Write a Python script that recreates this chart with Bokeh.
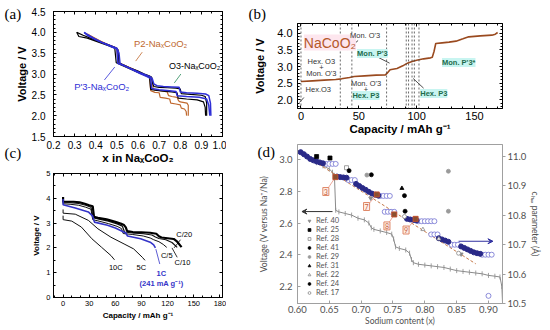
import math
from bokeh.plotting import figure
from bokeh.layouts import row, column
from bokeh.models import (Label, Span, Arrow, VeeHead, LinearAxis, Range1d, Legend, GridBox,
                          LegendItem, SingleIntervalTicker, NumeralTickFormatter)
from bokeh.core.properties import value
from bokeh.embed import file_html
from bokeh.resources import INLINE

SANS = "Liberation Sans"
SERIF = "Liberation Serif"
DSANS = "Lato"

# ---------------- (a) voltage vs x in NaxCoO2 ----------------
a_o3_chg_x = [0.925, 0.925, 0.918, 0.90, 0.85, 0.805, 0.80, 0.78, 0.74, 0.70, 0.675, 0.668, 0.665, 0.655, 0.63, 0.60, 0.56, 0.53, 0.51, 0.505, 0.495, 0.46, 0.42, 0.38, 0.34, 0.31]
a_o3_chg_v = [2.00, 2.30, 2.46, 2.49, 2.51, 2.53, 2.64, 2.66, 2.67, 2.68, 2.70, 2.80, 2.92, 2.95, 3.00, 3.07, 3.15, 3.22, 3.27, 3.58, 3.63, 3.70, 3.77, 3.85, 3.93, 4.00]
a_o3_dis_x = [0.31, 0.32, 0.36, 0.41, 0.46, 0.49, 0.497, 0.52, 0.56, 0.60, 0.64, 0.655, 0.66, 0.68, 0.72, 0.76, 0.785, 0.79, 0.83, 0.88, 0.91, 0.918, 0.92]
a_o3_dis_v = [4.00, 3.90, 3.86, 3.77, 3.68, 3.62, 3.27, 3.22, 3.13, 3.04, 2.96, 2.92, 2.63, 2.61, 2.59, 2.57, 2.55, 2.42, 2.40, 2.38, 2.33, 2.20, 2.00]

a_p2_chg_x = [0.838, 0.838, 0.832, 0.80, 0.792, 0.785, 0.76, 0.745, 0.738, 0.72, 0.69, 0.672, 0.668, 0.66, 0.63, 0.59, 0.55, 0.52, 0.51, 0.505, 0.49, 0.45, 0.41, 0.37, 0.36]
a_p2_chg_v = [2.00, 2.25, 2.30, 2.33, 2.36, 2.44, 2.46, 2.48, 2.57, 2.59, 2.61, 2.63, 2.82, 2.93, 2.99, 3.09, 3.18, 3.24, 3.27, 3.58, 3.64, 3.72, 3.82, 3.93, 3.96]
a_p2_dis_x = [0.36, 0.38, 0.42, 0.46, 0.49, 0.50, 0.505, 0.53, 0.57, 0.61, 0.645, 0.655, 0.66, 0.68, 0.70, 0.705, 0.73, 0.75, 0.755, 0.78, 0.80, 0.805, 0.82, 0.828, 0.83]
a_p2_dis_v = [3.96, 3.90, 3.79, 3.70, 3.64, 3.60, 3.26, 3.22, 3.12, 3.02, 2.94, 2.91, 2.60, 2.56, 2.55, 2.44, 2.42, 2.40, 2.30, 2.28, 2.26, 2.18, 2.16, 2.10, 2.00]

a_p3_chg_x = [0.945, 0.943, 0.935, 0.92, 0.88, 0.83, 0.80, 0.795, 0.76, 0.72, 0.69, 0.675, 0.668, 0.66, 0.64, 0.61, 0.57, 0.54, 0.515, 0.51, 0.50, 0.47, 0.43, 0.39, 0.36, 0.345]
a_p3_chg_v = [2.00, 2.30, 2.48, 2.52, 2.54, 2.55, 2.57, 2.68, 2.69, 2.70, 2.72, 2.76, 2.88, 2.93, 2.97, 3.03, 3.12, 3.19, 3.25, 3.50, 3.62, 3.68, 3.76, 3.86, 3.95, 4.00]
a_p3_dis_x = [0.345, 0.36, 0.40, 0.44, 0.48, 0.50, 0.505, 0.53, 0.57, 0.61, 0.645, 0.66, 0.665, 0.70, 0.75, 0.78, 0.785, 0.83, 0.89, 0.925, 0.935, 0.94]
a_p3_dis_v = [4.00, 3.93, 3.82, 3.73, 3.64, 3.60, 3.25, 3.21, 3.11, 3.01, 2.93, 2.89, 2.65, 2.62, 2.60, 2.58, 2.48, 2.46, 2.44, 2.40, 2.25, 2.00]

# ---------------- (b) NaCoO2 charge curve ----------------
b_cap = [0, 10, 20, 30, 35, 42, 46, 55, 65, 73, 74.5, 77, 83, 88, 92, 96, 100, 106, 112, 113.5, 115, 116.5, 122, 128, 134, 140, 145, 155, 165, 168, 170]
b_volt = [2.55, 2.57, 2.59, 2.61, 2.63, 2.67, 2.70, 2.72, 2.74, 2.75, 2.80, 2.90, 2.94, 3.02, 3.10, 3.15, 3.19, 3.23, 3.26, 3.28, 3.45, 3.69, 3.71, 3.73, 3.76, 3.83, 3.89, 3.92, 3.94, 3.97, 4.02]
b_phase_bounds = [0, 34, 44, 74, 91, 93, 96, 98, 102]

# ---------------- (c) rate capability ----------------
c_c20_cap = [0, 0, 5, 12, 19, 25, 30, 34, 35.5, 40, 50, 60, 66, 70, 72, 73.5, 80, 90, 100, 107, 110, 113, 120, 127, 131, 136]
c_c20_v = [4.05, 3.87, 3.86, 3.86, 3.84, 3.78, 3.72, 3.68, 3.25, 3.21, 3.15, 3.05, 2.98, 2.92, 2.83, 2.68, 2.64, 2.63, 2.61, 2.57, 2.47, 2.42, 2.39, 2.36, 2.25, 2.03]
c_c10_cap = [0, 0, 8, 18, 26, 32, 34.5, 40, 52, 62, 68, 70.5, 80, 92, 102, 106, 110, 118, 125, 131]
c_c10_v = [4.0, 3.83, 3.82, 3.79, 3.72, 3.64, 3.22, 3.17, 3.08, 2.97, 2.88, 2.64, 2.60, 2.57, 2.52, 2.44, 2.38, 2.33, 2.22, 2.02]
c_c5_cap = [0, 0, 8, 18, 26, 32, 34, 40, 52, 62, 67, 69, 80, 92, 100, 104, 110, 115, 119]
c_c5_v = [3.97, 3.78, 3.76, 3.72, 3.64, 3.56, 3.14, 3.09, 2.98, 2.87, 2.78, 2.58, 2.54, 2.48, 2.40, 2.33, 2.25, 2.14, 2.02]
c_1c_cap = [0, 0, 14, 29, 34, 36, 51, 60, 66, 72, 74, 89, 100, 104, 106]
c_1c_v = [3.97, 3.74, 3.61, 3.45, 3.28, 3.04, 2.91, 2.80, 2.70, 2.60, 2.48, 2.37, 2.23, 2.12, 2.00]
c_5c_cap = [0, 0, 14, 29, 40, 55, 70, 81, 91, 94]
c_5c_v = [3.55, 3.40, 3.36, 3.11, 2.77, 2.43, 2.16, 1.96, 1.62, 1.50]
c_10c_cap = [0, 0, 10, 21, 33, 44, 55, 59]
c_10c_v = [3.30, 3.14, 3.08, 2.84, 2.37, 2.03, 1.69, 1.52]

# ---------------- (d) voltage and c_hex vs sodium content ----------------
d_vx = [0.600, 0.610, 0.620, 0.630, 0.640, 0.650, 0.655, 0.658, 0.660, 0.665, 0.675, 0.685, 0.695, 0.705, 0.712, 0.716, 0.720, 0.730, 0.740, 0.748, 0.751, 0.754, 0.760, 0.770, 0.776, 0.779, 0.782, 0.790, 0.800, 0.810, 0.820, 0.830, 0.840, 0.850, 0.860, 0.870, 0.880, 0.890, 0.900, 0.910, 0.918, 0.921, 0.922]
d_vv = [3.06, 3.03, 3.00, 2.98, 2.96, 2.94, 2.92, 2.90, 2.68, 2.67, 2.66, 2.65, 2.63, 2.62, 2.60, 2.57, 2.56, 2.55, 2.54, 2.53, 2.50, 2.45, 2.44, 2.43, 2.41, 2.37, 2.35, 2.34, 2.335, 2.33, 2.325, 2.32, 2.31, 2.30, 2.295, 2.29, 2.285, 2.28, 2.27, 2.265, 2.26, 2.20, 2.10]

d_chex_x = [0.605, 0.610, 0.615, 0.620, 0.625, 0.630, 0.635, 0.640, 0.662, 0.667, 0.672, 0.677, 0.692, 0.697, 0.702, 0.707, 0.712, 0.717, 0.722, 0.727, 0.772, 0.777, 0.782, 0.787, 0.822, 0.827, 0.832, 0.837, 0.857, 0.862, 0.867, 0.872, 0.877, 0.882, 0.887]
d_chex_c = [11.015, 11.008, 11.000, 10.992, 10.987, 10.983, 10.980, 10.977, 10.932, 10.930, 10.929, 10.928, 10.907, 10.900, 10.893, 10.887, 10.880, 10.874, 10.870, 10.867, 10.788, 10.786, 10.784, 10.782, 10.722, 10.718, 10.714, 10.710, 10.694, 10.689, 10.684, 10.679, 10.674, 10.671, 10.669]
d_open_x = [0.645, 0.650, 0.655, 0.660, 0.680, 0.685, 0.690, 0.730, 0.735, 0.740, 0.745, 0.737, 0.742, 0.747, 0.752, 0.790, 0.795, 0.800, 0.805, 0.810, 0.815, 0.810, 0.815, 0.820, 0.842, 0.847, 0.852, 0.890, 0.895, 0.900, 0.905, 0.900]
d_open_c = [10.975, 10.975, 10.975, 10.975, 10.920, 10.920, 10.920, 10.866, 10.866, 10.866, 10.866, 10.812, 10.812, 10.812, 10.812, 10.780, 10.780, 10.780, 10.780, 10.780, 10.780, 10.735, 10.735, 10.735, 10.700, 10.700, 10.700, 10.666, 10.666, 10.666, 10.666, 10.526]
d_fit_x = [0.600, 0.880]
d_fit_c = [11.020, 10.635]
d_mark_x = [0.6595, 0.7245, 0.752, 0.7855]
d_mark_c = [10.930, 10.871, 10.803, 10.788]
d_box_x = [0.6445, 0.7085, 0.7405, 0.7705]
d_box_c = [10.881, 10.830, 10.764, 10.750]
d_box_text = ["3", "7", "8", "9"]

ref_names = ["Ref. 40", "Ref. 25", "Ref. 28", "Ref. 41", "Ref. 29", "Ref. 31", "Ref. 22", "Ref. 24", "Ref. 17"]
ref40_x = [0.715, 0.857]; ref40_c = [10.858, 10.668]
ref25_x = [0.630, 0.651]; ref25_c = [11.000, 10.995]
ref28_x = [0.677];        ref28_c = [10.962]
ref41_x = [0.681, 0.716]; ref41_c = [10.952, 10.938]
ref29_x = [0.709, 0.837, 0.837]; ref29_c = [10.937, 10.950, 10.814]
ref31_x = [0.764];        ref31_c = [10.892]
ref22_x = [0.797, 0.822]; ref22_c = [10.752, 10.720]
ref24_x = [0.768, 0.769]; ref24_c = [10.867, 10.814]
ref17_x = [0.768, 0.853]; ref17_c = [10.796, 10.671]

panel_letters = ["(a)", "(b)", "(c)", "(d)"]

W, H = 550, 330


def make_fig(w, h, xr, yr, bl, br, bt, bb, outline="black"):
    p = figure(width=w, height=h, x_range=Range1d(*xr), y_range=Range1d(*yr),
               output_backend="svg", toolbar_location=None,
               min_border_left=bl, min_border_right=br,
               min_border_top=bt, min_border_bottom=bb)
    p.xgrid.visible = False
    p.ygrid.visible = False
    p.outline_line_color = outline
    p.outline_line_width = 1
    return p


def style(ax, fs, lfs, font=SANS, tin=3, tout=0, color="black", lcolor="black",
          bold=True, ls=2, als=2):
    ax.major_tick_in = tin
    ax.major_tick_out = tout
    ax.minor_tick_in = 2 if tin else 0
    ax.minor_tick_out = 2 if tout else 0
    ax.major_tick_line_color = color
    ax.minor_tick_line_color = color
    ax.axis_line_color = color
    ax.major_label_text_font = font
    ax.major_label_text_font_size = f"{fs}px"
    ax.major_label_text_color = lcolor
    ax.axis_label_text_font = font
    ax.axis_label_text_font_size = f"{lfs}px"
    ax.axis_label_text_font_style = "bold" if bold else "normal"
    ax.axis_label_text_color = lcolor
    ax.major_label_standoff = ls
    ax.axis_label_standoff = als


def mirror(p, tx, ty):
    for loc, tk in (("above", tx), ("right", ty)):
        ax = LinearAxis(ticker=tk, major_label_text_font_size="0px", major_label_text_color=None,
                        major_tick_in=3, major_tick_out=0, minor_tick_in=2, minor_tick_out=0,
                        major_label_standoff=0, axis_line_color="black")
        p.add_layout(ax, loc)


def lab(p, x, y, text, size, color="black", font=SANS, fstyle="normal", align="center",
        baseline="middle", bg=None, yname="default"):
    l = Label(x=x, y=y, text=text, text_font=font, text_font_size=f"{size}px",
              text_color=color, text_font_style=fstyle, text_align=align,
              text_baseline=baseline, y_range_name=yname)
    if bg is not None:
        l.background_fill_color = bg
        l.background_fill_alpha = 1.0
    p.add_layout(l)


F1 = NumeralTickFormatter(format="0.0")

# ================= panel (a) =================
pa = make_fig(226, 166, (0.2, 1.0), (1.5, 4.5), 43, 4, 11, 29)
ta_x = SingleIntervalTicker(interval=0.1, num_minor_ticks=2)
ta_y = SingleIntervalTicker(interval=0.5, num_minor_ticks=5)
pa.xaxis.ticker = ta_x
pa.yaxis.ticker = ta_y
pa.xaxis.formatter = F1
pa.yaxis.formatter = F1
style(pa.xaxis[0], 10, 11.5, ls=4, als=0)
style(pa.yaxis[0], 10, 11, ls=8, als=1)
pa.xaxis.axis_label = "x in NaₓCoO₂"
pa.yaxis.axis_label = "Voltage / V"
mirror(pa, ta_x, ta_y)

BROWN_A = "#c0692f"
BLUE_A = "#2f2fd6"
pa.line(a_p2_chg_x, a_p2_chg_v, line_color=BROWN_A, line_width=1.2)
pa.line(a_p2_dis_x, a_p2_dis_v, line_color=BROWN_A, line_width=1.2)
pa.line(a_o3_chg_x, a_o3_chg_v, line_color="black", line_width=1.2)
pa.line(a_o3_dis_x, a_o3_dis_v, line_color="black", line_width=1.2)
pa.line(a_p3_chg_x, a_p3_chg_v, line_color=BLUE_A, line_width=1.5)
pa.line(a_p3_dis_x, a_p3_dis_v, line_color=BLUE_A, line_width=1.5)
pa.segment(x0=[0.62, 0.803, 0.441], y0=[3.524, 3.0, 2.857],
           x1=[0.589, 0.772, 0.49], y1=[3.31, 2.786, 3.167],
           line_color=[BROWN_A, "#2a8a5a", BLUE_A], line_width=0.8)
lab(pa, 0.707, 3.74, "P2-NaₓCoO₂", 9.5, BROWN_A)
lab(pa, 0.868, 3.19, "O3-NaₓCoO₂", 9, "black")
lab(pa, 0.428, 2.71, "P'3-NaₓCoO₂", 9.5, BLUE_A)

# ================= panel (b) =================
pb = make_fig(324, 140, (-3, 174.2), (1.74, 4.29), 42, 48, 23, 32)
tb_x = SingleIntervalTicker(interval=50, num_minor_ticks=5)
tb_y = SingleIntervalTicker(interval=0.5, num_minor_ticks=5)
pb.xaxis.ticker = tb_x
pb.yaxis.ticker = tb_y
pb.yaxis.formatter = F1
style(pb.xaxis[0], 11, 11.5, ls=3, als=0)
style(pb.yaxis[0], 11, 11, ls=5, als=8)
pb.xaxis.axis_label = "Capacity / mAh g⁻¹"
pb.yaxis.axis_label = "Voltage / V"
mirror(pb, tb_x, tb_y)
for c in b_phase_bounds:
    pb.add_layout(Span(location=c, dimension="height", line_color="#444",
                       line_dash="2 2", line_width=0.8))
pb.line(b_cap, b_volt, line_color="#9a4a1f", line_width=1.6)

GREEN = "#1d6b4b"
CYAN = "#c8f5f1"
GREY_T = "#333333"
lab(pb, 2.5, 3.72, "NaCoO₂", 14, "#b5582b", align="left", bg="#fde6ee")
lab(pb, 4.0, 2.31, "Hex.O3", 7.5, GREY_T, align="left")
lab(pb, 17.6, 3.14, "Hex. O3", 7.5, GREY_T)
lab(pb, 17.6, 2.98, "+", 7.5, GREY_T)
lab(pb, 17.6, 2.80, "Mon. O'3", 7.5, GREY_T)
lab(pb, 55.4, 3.93, "Mon. O'3", 7.5, GREY_T)
lab(pb, 56.2, 2.49, "Mon. O'3", 7.5, GREY_T)
lab(pb, 56.2, 2.31, "+", 7.5, GREY_T)
lab(pb, 56.2, 2.13, "Hex. P3", 7.5, GREEN, fstyle="bold", bg=CYAN)
lab(pb, 61.7, 3.39, "Mon. P'3", 7.5, GREEN, fstyle="bold", bg=CYAN)
lab(pb, 114.8, 2.19, "Hex. P3", 7.5, GREEN, fstyle="bold", bg=CYAN)
lab(pb, 136.4, 3.12, "Mon. P'3*", 7.5, GREEN, fstyle="bold", bg=CYAN)
pb.segment(x0=[-1.3, 40.3, 65.3, 97.0], y0=[1.92, 3.51, 3.30, 2.64],
           x1=[2.5, 49.4, 76.6, 106.0], y1=[2.07, 3.78, 3.10, 2.35],
           line_color="#222", line_width=0.8)

# ================= panel (c) =================
pc = make_fig(226, 164, (-11, 183), (0, 5), 53, 1, 7, 33)
tc_x = SingleIntervalTicker(interval=30, num_minor_ticks=3)
tc_y = SingleIntervalTicker(interval=1, num_minor_ticks=2)
pc.xaxis.ticker = tc_x
pc.yaxis.ticker = tc_y
style(pc.xaxis[0], 7.5, 8, ls=3, als=2)
style(pc.yaxis[0], 7.5, 8, ls=3, als=2)
pc.xaxis.axis_label = "Capacity / mAh g⁻¹"
pc.yaxis.axis_label = "Voltage / V"
mirror(pc, tc_x, tc_y)
BLUE_C = "#3434c8"
pc.line(c_10c_cap, c_10c_v, line_color="#111", line_width=1.0)
pc.line(c_5c_cap, c_5c_v, line_color="#111", line_width=1.0)
pc.line(c_c5_cap, c_c5_v, line_color="#111", line_width=1.0)
pc.line(c_c10_cap, c_c10_v, line_color="#111", line_width=1.2)
pc.line(c_c20_cap, c_c20_v, line_color="black", line_width=2.2)
pc.line(c_1c_cap, c_1c_v, line_color=BLUE_C, line_width=1.6)
pc.segment(x0=[134.8, 131.0], y0=[2.33, 1.62], x1=[127.4, 125.0], y1=[2.0, 2.0],
           line_color="black", line_width=0.8)
pc.segment(x0=[106.5], y0=[1.95], x1=[111.0], y1=[1.35], line_color=BLUE_C, line_width=0.8)
lab(pc, 139, 2.54, "C/20", 7.5)
lab(pc, 119, 1.69, "C/5", 7.5)
lab(pc, 137, 1.41, "C/10", 7.5)
lab(pc, 60.5, 1.2, "10C", 7.5)
lab(pc, 89.8, 1.2, "5C", 7.5)
lab(pc, 112.8, 0.96, "1C", 7.5, BLUE_C, fstyle="bold")
lab(pc, 113.0, 0.55, "(241 mA g⁻¹)", 7.5, BLUE_C, fstyle="bold")

# ================= panel (d) =================
pd = make_fig(324, 190, (0.6, 0.922), (2.093, 3.0945), 71, 38, 4, 27, outline="#a0a0a0")
pd.extra_y_ranges = {"c": Range1d(10.5, 11.041)}
pd.xaxis.ticker = SingleIntervalTicker(interval=0.05, num_minor_ticks=0)
pd.xaxis.formatter = NumeralTickFormatter(format="0.00")
pd.yaxis.ticker = SingleIntervalTicker(interval=0.2, num_minor_ticks=0)
pd.yaxis.formatter = F1
style(pd.xaxis[0], 9.5, 8.5, font=DSANS, color="#a0a0a0", lcolor="#505050", bold=False, ls=2, als=0)
style(pd.yaxis[0], 9.5, 8.5, font=DSANS, color="#a0a0a0", lcolor="#505050", bold=False, ls=5, als=7)
pd.xaxis.axis_label = "Sodium content (x)"
pd.yaxis.axis_label = "Voltage (V versus Na⁺/Na)"
rax = LinearAxis(y_range_name="c", ticker=SingleIntervalTicker(interval=0.1, num_minor_ticks=0),
                 formatter=NumeralTickFormatter(format="0.0"), axis_label="cₕₑₓ parameter (Å)")
style(rax, 9.5, 8.5, font=DSANS, tin=0, tout=3, color="#a0a0a0", lcolor="#505050", bold=False, ls=2, als=1)
pd.add_layout(rax, "right")

pd.line(d_vx, d_vv, line_color="#8a8a8a", line_width=1.0)
pd.scatter(d_vx, d_vv, marker="dash", angle=math.pi / 2, size=5, line_color="#8a8a8a", line_width=0.8)
pd.line(d_fit_x, d_fit_c, y_range_name="c", line_color="#c57a4a", line_dash="3 2", line_width=1.0)
pd.scatter(d_open_x, d_open_c, y_range_name="c", marker="circle", size=5,
           line_color="#7070d0", fill_color="white", line_width=0.8)
pd.scatter(d_chex_x, d_chex_c, y_range_name="c", marker="circle", size=5,
           line_color="#2a2a88", fill_color="#2a2a88")

ref_x = [ref40_x, ref25_x, ref28_x, ref41_x, ref29_x, ref31_x, ref22_x, ref24_x, ref17_x]
ref_c = [ref40_c, ref25_c, ref28_c, ref41_c, ref29_c, ref31_c, ref22_c, ref24_c, ref17_c]
ref_mk = ["inverted_triangle", "square", "square", "circle", "circle", "triangle", "triangle", "circle", "circle"]
ref_fill = ["#888888", "black", "white", "black", "#9a9a9a", "black", "white", "black", "white"]
ref_line = ["#888888", "black", "#888888", "black", "#9a9a9a", "black", "#888888", "black", "#888888"]
items = []
for name, xs, cs, mk, fc, lc in zip(ref_names, ref_x, ref_c, ref_mk, ref_fill, ref_line):
    r = pd.scatter(xs, cs, y_range_name="c", marker=mk, size=4, fill_color=fc, line_color=lc, line_width=0.8)
    items.append(LegendItem(label=name, renderers=[r]))
leg = Legend(items=items, location=(8, 6), spacing=0, padding=0, margin=0,
             label_height=7, glyph_height=7, glyph_width=8, label_standoff=3,
             label_text_font=DSANS, label_text_font_size="7.5px", label_text_color="#555555",
             border_line_color=None, background_fill_alpha=0)
pd.add_layout(leg)

pd.segment(x0=d_box_x, y0=d_box_c, x1=d_mark_x, y1=d_mark_c, y_range_name="c",
           line_color="#e89080", line_width=0.8)
pd.scatter(d_mark_x, d_mark_c, y_range_name="c", marker="square", size=5,
           fill_color="#8a5030", line_color="#c05030")
for bx, bc, bt in zip(d_box_x, d_box_c, d_box_text):
    l = Label(x=bx, y=bc, text=bt, y_range_name="c", text_font=DSANS, text_font_size="7px",
              text_color="#c86040", text_align="center", text_baseline="middle",
              background_fill_color="#fdeee6", border_line_color="#e08a6a", padding=1)
    pd.add_layout(l)

pd.add_layout(Arrow(end=VeeHead(size=5, line_color="#333", fill_color="#333"),
                    x_start=0.655, y_start=2.672, x_end=0.607, y_end=2.672,
                    line_color="#333", line_width=1))
pd.add_layout(Arrow(end=VeeHead(size=5, line_color="#3030a0", fill_color="#3030a0"),
                    x_start=0.853, y_start=2.485, x_end=0.907, y_end=2.485,
                    line_color="#3030a0", line_width=1))

# ================= transparent overlay for panel letters =================
ov = figure(width=W, height=H, x_range=Range1d(0, W), y_range=Range1d(H, 0),
            output_backend="svg", toolbar_location=None, min_border=0,
            x_axis_type=None, y_axis_type=None)
ov.xgrid.visible = False
ov.ygrid.visible = False
ov.outline_line_color = None
ov.background_fill_alpha = 0
ov.border_fill_alpha = 0
ov.text(x=[4, 248, 4, 257], y=[13, 13, 152, 151], text=panel_letters,
        text_font=value(SERIF), text_font_size="15px", text_color="black",
        text_align="left", text_baseline="middle")

main = row(column(pa, pc), column(pb, pd))
layout = GridBox(children=[(main, 0, 0), (ov, 0, 0)])
open("out.html", "w").write(file_html(layout, INLINE))
